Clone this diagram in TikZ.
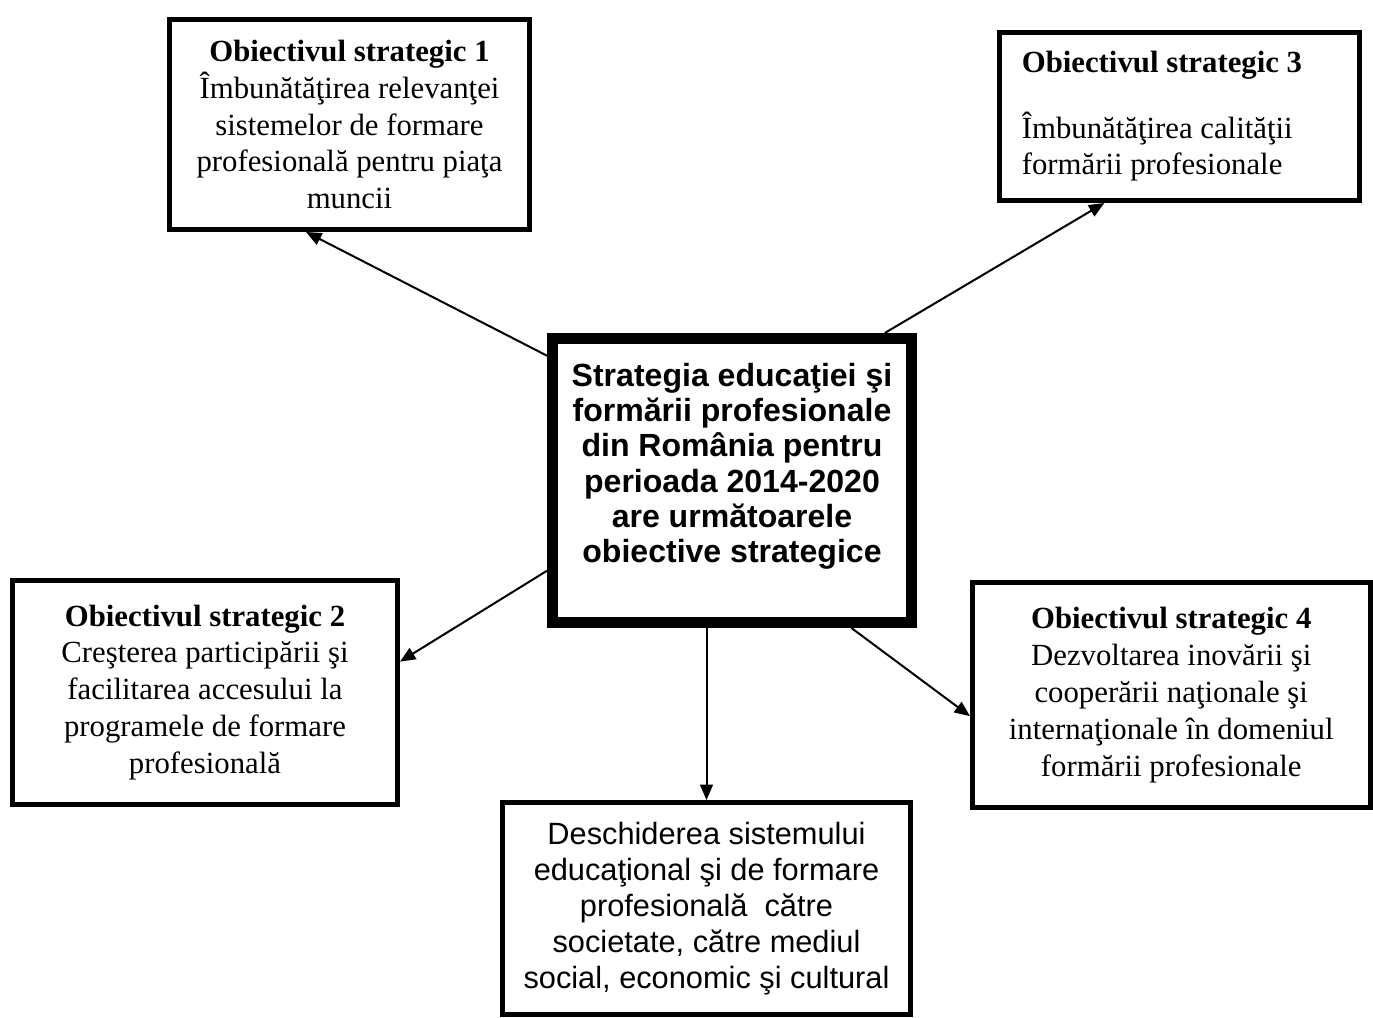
\documentclass[tikz,border=0pt]{standalone}
\usepackage{fontspec}
\setmainfont{Liberation Serif}
\setsansfont{Liberation Sans}
\usetikzlibrary{arrows.meta}
\newcommand{\px}{0.39pt}
\begin{document}
\begin{tikzpicture}[x=\px, y=-\px,
obbox/.style={draw, line width=5*\px, align=center, inner sep=0pt,
font=\fontsize{12}{14.4}\selectfont},
mainbox/.style={draw, line width=11*\px, align=center, inner sep=0pt,
font=\fontsize{12.5}{13.7}\selectfont\sffamily\bfseries},
link/.style={line width=2*\px, -{Triangle[length=6pt, width=5pt]}}]
\useasboundingbox (0,0) rectangle (1373,1017);
% central box
\node[mainbox, minimum width=359*\px, minimum height=284*\px] (centre) at (732,480.5)
{Strategia educaţiei şi\\formării profesionale\\din România pentru\\perioada 2014-2020\\are următoarele\\obiective strategice\\ \mbox{}};
% objectives
\node[obbox, minimum width=360*\px, minimum height=210*\px] (ob1) at (349.5,124.5)
{\textbf{Obiectivul strategic 1}\\Îmbunătăţirea relevanţei\\sistemelor de formare\\profesională pentru piaţa\\muncii};
\node[obbox, align=flush left, text width=123pt, minimum width=360*\px, minimum height=168*\px] (ob3) at (1179.5,116.5)
{\textbf{Obiectivul strategic 3}\\[11pt]Îmbunătăţirea calităţii\\formării profesionale};
\node[obbox, minimum width=385*\px, minimum height=224*\px] (ob2) at (205,692.5)
{\textbf{Obiectivul strategic 2}\\Creşterea participării şi\\facilitarea accesului la\\programele de formare\\profesională};
\node[obbox, minimum width=397.5*\px, minimum height=225*\px] (ob4) at (1171.25,695)
{\textbf{Obiectivul strategic 4}\\Dezvoltarea inovării şi\\cooperării naţionale şi\\internaţionale în domeniul\\formării profesionale};
\node[obbox, font=\fontsize{12}{14}\selectfont\sffamily, minimum width=408*\px, minimum height=212*\px] (deschidere) at (706.5,908.5)
{Deschiderea sistemului\\educaţional şi de formare\\profesională~ către\\societate, către mediul\\social, economic şi cultural};
% arrows
\draw[link] (centre.146) -- (ob1.248);
\draw[link] (centre.44) -- (ob3.229);
\draw[link] (centre.206) -- (ob2.9);
\draw[link] (centre.south -| deschidere.north) -- (deschidere.north);
\draw[link] (centre.309) -- (ob4.186);
\end{tikzpicture}
\end{document}
